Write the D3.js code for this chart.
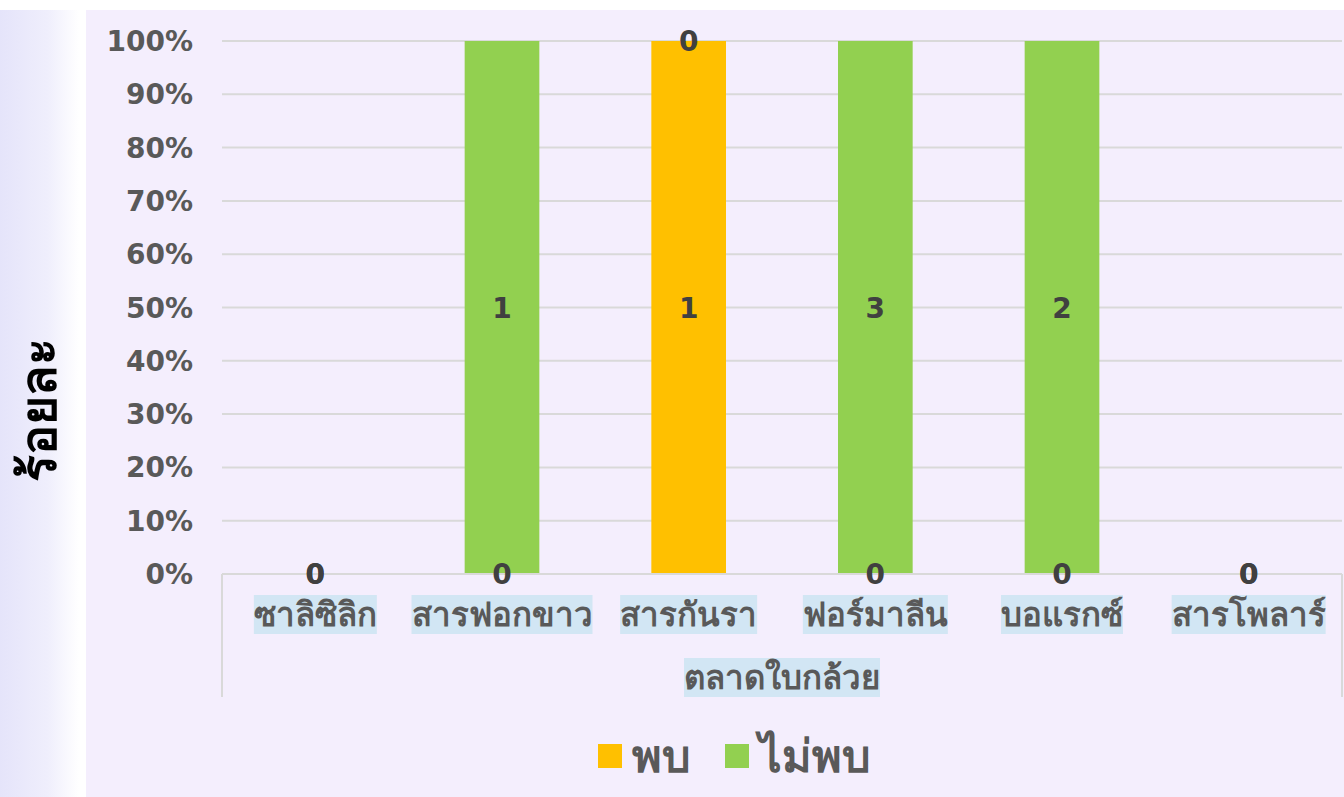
<!DOCTYPE html>
<html>
<head>
<meta charset="utf-8">
<script src="https://cdn.jsdelivr.net/npm/d3@7"></script>
<style>
  body { margin: 0; background: #fff; }
  svg { display: block; font-family: "DejaVu Sans", Verdana, "Noto Sans", sans-serif; }
</style>
</head>
<body>
<script>
// data
const categories = ["ซาลิซิลิก", "สารฟอกขาว", "สารกันรา", "ฟอร์มาลีน", "บอแรกซ์", "สารโพลาร์"];
const groupLabel = "ตลาดใบกล้วย";
const seriesNames = ["พบ", "ไม่พบ"];
const found = [0, 0, 1, 0, 0, 0];
const notFound = [0, 1, 0, 3, 2, 0];
const yTicks = [0, 0.1, 0.2, 0.3, 0.4, 0.5, 0.6, 0.7, 0.8, 0.9, 1];
const colors = ["#FFC000", "#92D050"];

const width = 1344, height = 797;
const margin = { left: 222, right: 2, top: 41, bottom: 223 };

const svg = d3.select("body").append("svg")
    .attr("width", width)
    .attr("height", height);

// left strip gradient
const defs = svg.append("defs");
const grad = defs.append("linearGradient").attr("id", "strip").attr("x1", "0").attr("x2", "1");
grad.append("stop").attr("offset", "0").attr("stop-color", "#E5E4FA");
grad.append("stop").attr("offset", "0.55").attr("stop-color", "#EFEEFC");
grad.append("stop").attr("offset", "0.92").attr("stop-color", "#ffffff");
grad.append("stop").attr("offset", "1").attr("stop-color", "#ffffff");

svg.append("rect").attr("x", 0).attr("y", 10).attr("width", 86).attr("height", height - 10).attr("fill", "url(#strip)");
svg.append("rect").attr("x", 86).attr("y", 10).attr("width", width - 86).attr("height", height - 10).attr("fill", "#F4EEFD");

const x = d3.scaleBand()
    .domain(categories)
    .range([margin.left, width - margin.right])
    .paddingInner(0.6)
    .paddingOuter(0.3);

const y = d3.scaleLinear()
    .domain([0, 1])
    .range([height - margin.bottom, margin.top]);

// gridlines
svg.append("g").selectAll("line")
    .data(yTicks.slice(1))
    .join("line")
    .attr("x1", margin.left)
    .attr("x2", width - margin.right)
    .attr("y1", d => y(d))
    .attr("y2", d => y(d))
    .attr("stroke", "#D9D9D9")
    .attr("stroke-width", 2);

// y tick labels
svg.append("g").selectAll("text")
    .data(yTicks)
    .join("text")
    .attr("x", 193)
    .attr("y", d => y(d))
    .attr("dy", "0.36em")
    .attr("text-anchor", "end")
    .attr("font-size", 28)
    .attr("font-weight", "bold")
    .attr("fill", "#595959")
    .text(d => d3.format(".0%")(d));

// stacked 100% data
const rows = categories.map((c, i) => ({ cat: c, "พบ": found[i], "ไม่พบ": notFound[i] }));
const stacked = d3.stack().keys(seriesNames).offset(d3.stackOffsetExpand)(rows);

const layers = svg.append("g").selectAll("g")
    .data(stacked)
    .join("g")
    .attr("fill", (d, i) => colors[i]);

layers.selectAll("rect")
    .data(d => d)
    .join("rect")
    .attr("x", d => x(d.data.cat))
    .attr("width", x.bandwidth())
    .attr("y", d => isNaN(d[1]) ? y(0) : y(d[1]))
    .attr("height", d => isNaN(d[1]) ? 0 : y(d[0]) - y(d[1]));

// axis lines (multi-level category)
const axisG = svg.append("g").attr("stroke", "#D9D9D9").attr("stroke-width", 2);
axisG.append("line").attr("x1", margin.left).attr("x2", width - margin.right)
    .attr("y1", y(0)).attr("y2", y(0));
axisG.append("line").attr("x1", margin.left).attr("x2", margin.left)
    .attr("y1", y(0)).attr("y2", 697);
axisG.append("line").attr("x1", width - margin.right).attr("x2", width - margin.right)
    .attr("y1", y(0)).attr("y2", 697);

// data labels
stacked.forEach(layer => {
    layer.forEach(d => {
        const lo = isNaN(d[0]) ? 0 : d[0];
        const hi = isNaN(d[1]) ? 0 : d[1];
        svg.append("text")
            .attr("x", x(d.data.cat) + x.bandwidth() / 2)
            .attr("y", y((lo + hi) / 2))
            .attr("dy", "0.36em")
            .attr("text-anchor", "middle")
            .attr("font-size", 28)
            .attr("font-weight", "bold")
            .attr("fill", "#404040")
            .text(d.data[layer.key]);
    });
});

// label with highlight box
function boxLabel(cx, cy, txt, size) {
    const g = svg.append("g");
    const t = g.append("text")
        .attr("x", cx)
        .attr("y", cy)
        .attr("dy", "0.36em")
        .attr("text-anchor", "middle")
        .attr("font-size", size)
        .attr("font-weight", "bold")
        .attr("fill", "#595959")
        .text(txt);
    const b = t.node().getBBox();
    g.insert("rect", "text")
        .attr("x", b.x)
        .attr("y", cy - 19)
        .attr("width", b.width)
        .attr("height", 39)
        .attr("fill", "#D2E6F4");
}

categories.forEach(c => boxLabel(x(c) + x.bandwidth() / 2, 614, c, 33));
boxLabel((margin.left + width - margin.right) / 2, 677, groupLabel, 33);

// y axis title
svg.append("text")
    .attr("transform", "translate(38,410) rotate(-90)")
    .attr("dy", "0.36em")
    .attr("text-anchor", "middle")
    .attr("font-size", 50)
    .attr("font-weight", "bold")
    .attr("fill", "#000")
    .text("ร้อยละ");

// legend
const legend = svg.append("g");
const lx = [598, 725];
seriesNames.forEach((s, i) => {
    legend.append("rect")
        .attr("x", lx[i]).attr("y", 744)
        .attr("width", 24).attr("height", 24)
        .attr("fill", colors[i]);
    legend.append("text")
        .attr("x", lx[i] + 34).attr("y", 756)
        .attr("dy", "0.36em")
        .attr("font-size", 45)
        .attr("font-weight", "bold")
        .attr("fill", "#595959")
        .text(s);
});
</script>
</body>
</html>
